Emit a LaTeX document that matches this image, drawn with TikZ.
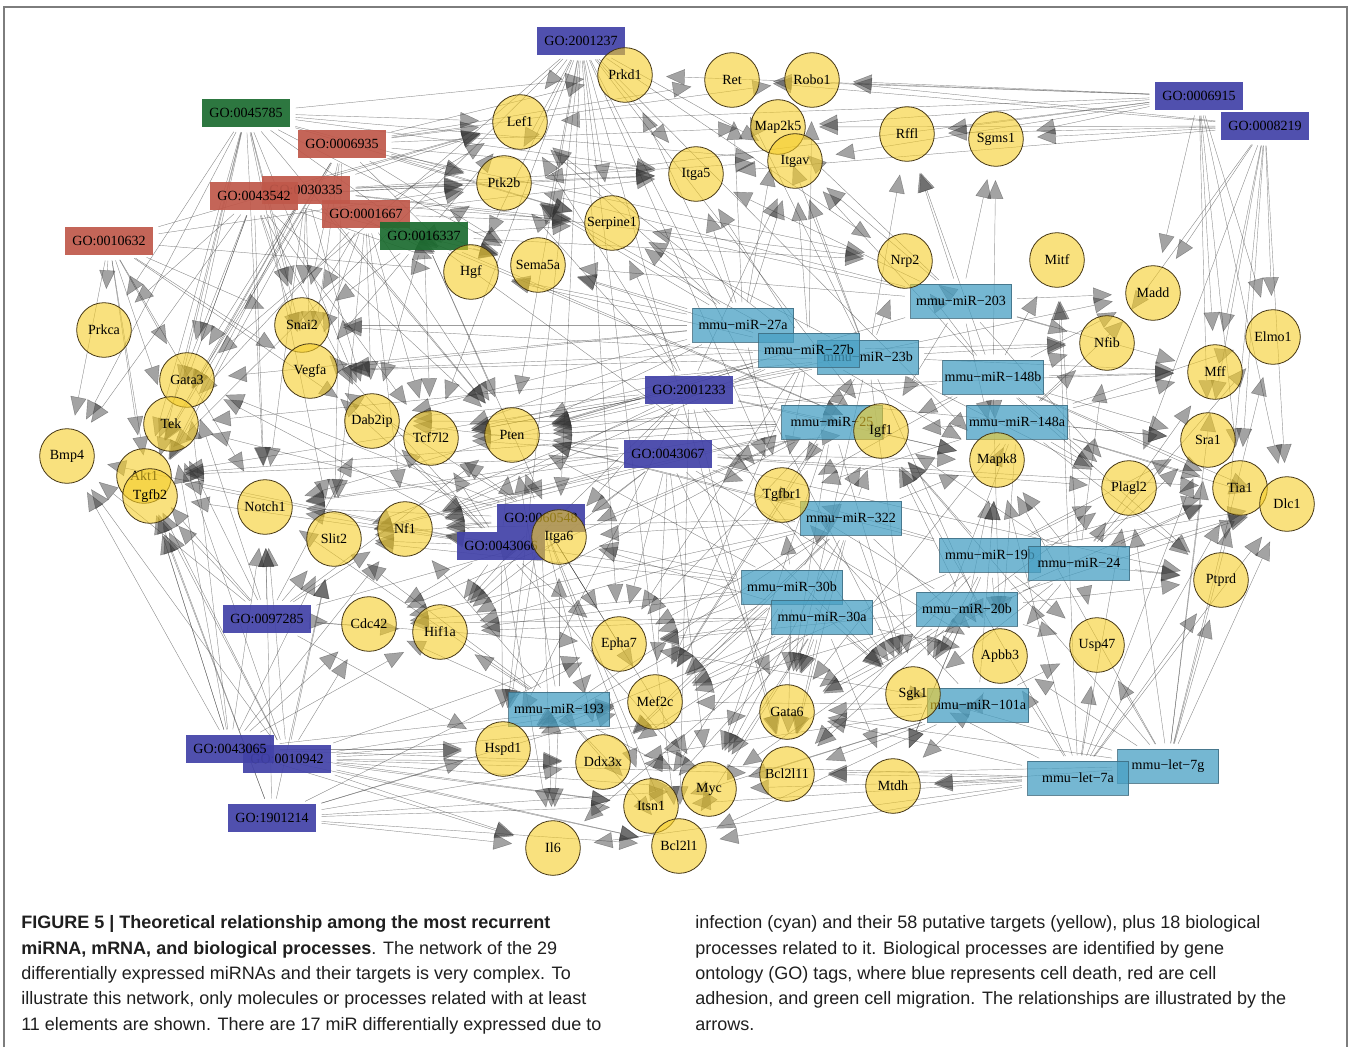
\documentclass[tikz,border=0pt]{standalone}
\usepackage{fontspec}
\setmainfont{Liberation Serif}
\newfontfamily\capfont{Liberation Sans}
\usetikzlibrary{arrows.meta}
\pgfdeclarelayer{back}
\pgfdeclarelayer{bg}
\pgfsetlayers{back,bg,main}
\definecolor{goblue}{RGB}{66,66,168}
\definecolor{gored}{RGB}{192,88,74}
\definecolor{gogreen}{RGB}{28,108,48}
\definecolor{mircyan}{RGB}{72,160,196}
\definecolor{mirborder}{RGB}{60,105,125}
\definecolor{genefill}{RGB}{245,205,40}
\definecolor{geneborder}{RGB}{70,55,20}
\definecolor{framegray}{RGB}{125,125,125}
\tikzset{
 gene/.style={circle, minimum size=41pt, inner sep=0pt, fill=genefill, fill opacity=0.6, text opacity=1, draw=geneborder, draw opacity=1, line width=0.6pt, font=\fontsize{10.5}{12}\selectfont},
 gobox/.style={rectangle, minimum width=66pt, minimum height=21pt, inner sep=0pt, fill opacity=0.92, text opacity=1, font=\fontsize{10.5}{12}\selectfont},
 gob/.style={gobox, fill=goblue},
 gor/.style={gobox, fill=gored},
 gog/.style={gobox, fill=gogreen},
 mir/.style={rectangle, minimum width=75.75pt, minimum height=25.5pt, inner sep=0pt, fill=mircyan, fill opacity=0.75, draw=mirborder, draw opacity=0.8, line width=0.5pt, text opacity=1, font=\fontsize{10.5}{12}\selectfont},
 edge/.style={draw=black!80, fill=black!80, line width=0.3pt, opacity=0.45, shorten >=10pt, shorten <=4pt, -{Triangle[length=14pt,width=12pt]}},
 caption/.style={anchor=base west, align=left, inner sep=0pt, text=black!88, font=\capfont\fontsize{13.5}{19}\selectfont},
}
\newcommand\edgesfrom[2]{\foreach \tg in {#2}{\draw[edge] (#1) -- (\tg);}}
\begin{document}
\begin{tikzpicture}[x=0.75pt,y=-0.75pt]
\useasboundingbox (0,0) rectangle (1352,1047);
\begin{pgfonlayer}{back}
\fill[white] (0,0) rectangle (1352,1047);
\end{pgfonlayer}
\draw[framegray, line width=1.2pt] (4,1047) -- (4,7) -- (1347,7) -- (1347,1047);

% GO boxes
\node[gob] (go2001237) at (581,41) {GO:2001237};
\node[gob] (go0006915) at (1199,96) {GO:0006915};
\node[gob] (go0008219) at (1265,126) {GO:0008219};
\node[gob] (go2001233) at (689,390) {GO:2001233};
\node[gob] (go0043067) at (668,454) {GO:0043067};
\node[gob] (go0060548) at (541,518) {GO:0060548};
\node[gob] (go0043066) at (501,546) {GO:0043066};
\node[gob] (go0097285) at (267,619) {GO:0097285};
\node[gob] (go0010942) at (287,759) {GO:0010942};
\node[gob] (go0043065) at (230,749) {GO:0043065};
\node[gob] (go1901214) at (272,818) {GO:1901214};
\node[gog] (go0045785) at (246,113) {GO:0045785};
\node[gor] (go0006935) at (342,144) {GO:0006935};
\node[gor] (go0030335) at (306,190) {GO:0030335};
\node[gor] (go0043542) at (254,196) {GO:0043542};
\node[gor] (go0001667) at (366,214) {GO:0001667};
\node[gor] (go0010632) at (109,241) {GO:0010632};
\node[gog] (go0016337) at (424,236) {GO:0016337};

% miRNA boxes
\node[mir] (m203) at (961,301) {mmu−miR−203};
\node[mir] (m27a) at (743,325) {mmu−miR−27a};
\node[mir] (m23b) at (868,357) {mmu−miR−23b};
\node[mir] (m27b) at (809,350) {mmu−miR−27b};
\node[mir] (m148b) at (993,377) {mmu−miR−148b};
\node[mir] (m25) at (832,422) {mmu−miR−25};
\node[mir] (m148a) at (1017,422) {mmu−miR−148a};
\node[mir] (m322) at (851,518) {mmu−miR−322};
\node[mir] (m19b) at (990,555) {mmu−miR−19b};
\node[mir] (m24) at (1079,563) {mmu−miR−24};
\node[mir] (m30b) at (792,587) {mmu−miR−30b};
\node[mir] (m30a) at (822,617) {mmu−miR−30a};
\node[mir] (m20b) at (967,609) {mmu−miR−20b};
\node[mir] (m193) at (559,709) {mmu−miR−193};
\node[mir] (m101a) at (978,705) {mmu−miR−101a};
\node[mir] (l7g) at (1168,766) {mmu−let−7g};
\node[mir] (l7a) at (1078,778) {mmu−let−7a};

% target genes
\node[gene] (Prkd1) at (625,75) {Prkd1};
\node[gene] (Ret) at (732,80) {Ret};
\node[gene] (Robo1) at (812,80) {Robo1};
\node[gene] (Lef1) at (520,122) {Lef1};
\node[gene] (Map2k5) at (778,127) {Map2k5};
\node[gene] (Itgav) at (795,161) {Itgav};
\node[gene] (Rffl) at (907,134) {Rffl};
\node[gene] (Sgms1) at (996,139) {Sgms1};
\node[gene] (Itga5) at (696,174) {Itga5};
\node[gene] (Ptk2b) at (504,183) {Ptk2b};
\node[gene] (Serpine1) at (612,223) {Serpine1};
\node[gene] (Hgf) at (471,272) {Hgf};
\node[gene] (Sema5a) at (538,265) {Sema5a};
\node[gene] (Nrp2) at (905,261) {Nrp2};
\node[gene] (Mitf) at (1057,260) {Mitf};
\node[gene] (Madd) at (1153,293) {Madd};
\node[gene] (Elmo1) at (1273,337) {Elmo1};
\node[gene] (Nfib) at (1107,343) {Nfib};
\node[gene] (Mff) at (1215,372) {Mff};
\node[gene] (Prkca) at (104,330) {Prkca};
\node[gene] (Snai2) at (302,325) {Snai2};
\node[gene] (Vegfa) at (310,371) {Vegfa};
\node[gene] (Gata3) at (187,380) {Gata3};
\node[gene] (Tek) at (171,424) {Tek};
\node[gene] (Dab2ip) at (372,421) {Dab2ip};
\node[gene] (Tcf7l2) at (431,438) {Tcf7l2};
\node[gene] (Pten) at (512,435) {Pten};
\node[gene] (Igf1) at (881,431) {Igf1};
\node[gene] (Sra1) at (1208,440) {Sra1};
\node[gene] (Bmp4) at (67,456) {Bmp4};
\node[gene] (Akt1) at (144,476) {Akt1};
\node[gene] (Tgfb2) at (150,496) {Tgfb2};
\node[gene] (Mapk8) at (997,460) {Mapk8};
\node[gene] (Notch1) at (265,507) {Notch1};
\node[gene] (Tgfbr1) at (782,495) {Tgfbr1};
\node[gene] (Plagl2) at (1129,488) {Plagl2};
\node[gene] (Tia1) at (1240,488) {Tia1};
\node[gene] (Dlc1) at (1287,504) {Dlc1};
\node[gene] (Slit2) at (334,539) {Slit2};
\node[gene] (Nf1) at (405,529) {Nf1};
\node[gene] (Itga6) at (559,537) {Itga6};
\node[gene] (Ptprd) at (1221,580) {Ptprd};
\node[gene] (Cdc42) at (369,624) {Cdc42};
\node[gene] (Hif1a) at (440,632) {Hif1a};
\node[gene] (Epha7) at (619,644) {Epha7};
\node[gene] (Usp47) at (1097,645) {Usp47};
\node[gene] (Apbb3) at (1000,656) {Apbb3};
\node[gene] (Mef2c) at (655,702) {Mef2c};
\node[gene] (Sgk1) at (913,694) {Sgk1};
\node[gene] (Gata6) at (787,712) {Gata6};
\node[gene] (Hspd1) at (503,749) {Hspd1};
\node[gene] (Ddx3x) at (603,762) {Ddx3x};
\node[gene] (Bcl2l11) at (787,774) {Bcl2l11};
\node[gene] (Myc) at (709,789) {Myc};
\node[gene] (Mtdh) at (893,786) {Mtdh};
\node[gene] (Itsn1) at (651,806) {Itsn1};
\node[gene] (Il6) at (553,848) {Il6};
\node[gene] (Bcl2l1) at (679,846) {Bcl2l1};

\begin{pgfonlayer}{bg}
\edgesfrom{go2001237}{Lef1,Ptk2b,Serpine1,Hgf,Sema5a,Pten,Tcf7l2,Itga6,Igf1,Nrp2,Itgav,Itga5,Mapk8,Tgfbr1,Epha7,Sgk1,Bcl2l11,Bcl2l1,Hspd1,Akt1,Gata3}
\edgesfrom{go0006915}{Ret,Robo1,Prkd1,Rffl,Sgms1,Map2k5,Itgav,Lef1,Ptk2b,Madd,Mff,Sra1,Tia1,Dlc1,Elmo1}
\edgesfrom{go0008219}{Ret,Robo1,Rffl,Sgms1,Madd,Mff,Elmo1,Sra1,Tia1,Dlc1,Nfib,Ptprd,Plagl2,Itga5,Map2k5}
\edgesfrom{go0045785}{Lef1,Ptk2b,Prkd1,Itga5,Serpine1,Sema5a,Hgf,Prkca,Gata3,Tek,Snai2,Vegfa,Dab2ip,Notch1,Bmp4,Tgfb2,Akt1,Pten,Slit2,Itgav}
\edgesfrom{go0006935}{Lef1,Ptk2b,Prkd1,Ret,Robo1,Itga5,Map2k5,Serpine1,Sema5a,Hgf,Vegfa,Snai2,Nrp2,Slit2,Tgfb2,Akt1,Tek}
\edgesfrom{go0043542}{Ptk2b,Lef1,Itga5,Serpine1,Hgf,Sema5a,Prkca,Gata3,Tek,Vegfa,Snai2,Dab2ip,Tcf7l2,Pten,Notch1,Akt1,Bmp4}
\edgesfrom{go0030335}{Ptk2b,Lef1,Itgav,Itga5,Serpine1,Hgf,Vegfa,Snai2,Gata3,Tek,Dab2ip,Pten,Akt1,Tgfb2,Notch1,Igf1,Nrp2}
\edgesfrom{go0001667}{Ptk2b,Lef1,Serpine1,Hgf,Sema5a,Itga5,Vegfa,Snai2,Tek,Dab2ip,Tcf7l2,Pten,Nf1,Slit2}
\edgesfrom{go0010632}{Bmp4,Prkca,Gata3,Tek,Akt1,Tgfb2,Vegfa,Snai2,Ptk2b,Lef1,Hgf,Notch1,Dab2ip}
\edgesfrom{go0016337}{Hgf,Sema5a,Ptk2b,Lef1,Serpine1,Pten,Tcf7l2,Dab2ip,Vegfa,Snai2,Igf1,Nrp2,Itga6,Tgfbr1}
\edgesfrom{go2001233}{Pten,Tcf7l2,Itga6,Igf1,Tgfbr1,Mapk8,Itgav,Ptk2b,Lef1,Serpine1,Dab2ip,Hif1a,Nf1,Akt1,Sgk1,Bcl2l11,Bcl2l1,Hspd1,Mff,Sra1,Madd}
\edgesfrom{go0043067}{Pten,Tcf7l2,Dab2ip,Nf1,Slit2,Itga6,Igf1,Tgfbr1,Mapk8,Hif1a,Epha7,Mef2c,Gata6,Myc,Sgk1,Apbb3,Plagl2,Tia1,Ptprd,Akt1,Notch1}
\edgesfrom{go0060548}{Pten,Tcf7l2,Nf1,Slit2,Hif1a,Epha7,Mef2c,Myc,Il6,Itsn1,Ddx3x,Hspd1,Bcl2l1,Gata3,Tek,Notch1,Vegfa}
\edgesfrom{go0043066}{Pten,Tcf7l2,Dab2ip,Nf1,Slit2,Cdc42,Hif1a,Notch1,Akt1,Tgfb2,Bmp4,Gata3,Vegfa,Snai2,Epha7,Hspd1,Il6,Myc}
\edgesfrom{go0097285}{Notch1,Slit2,Cdc42,Hif1a,Nf1,Tgfb2,Akt1,Bmp4,Tek,Gata3,Dab2ip,Pten,Itga6,Epha7,Hspd1}
\edgesfrom{go0043065}{Bmp4,Akt1,Tgfb2,Tek,Gata3,Notch1,Slit2,Cdc42,Hif1a,Nf1,Hspd1,Il6,Ddx3x,Itsn1,Bcl2l1,Mef2c}
\edgesfrom{go0010942}{Bmp4,Akt1,Tgfb2,Tek,Notch1,Slit2,Cdc42,Hspd1,Ddx3x,Il6,Itsn1,Myc,Bcl2l1,Bcl2l11,Mef2c,Epha7,Gata6}
\edgesfrom{go1901214}{Akt1,Tgfb2,Notch1,Slit2,Hspd1,Il6,Ddx3x,Itsn1,Bcl2l1,Myc,Mef2c,Epha7}
\edgesfrom{m203}{Nrp2,Serpine1,Itga5,Itgav,Map2k5,Rffl,Sgms1,Nfib,Mff,Madd,Igf1,Mapk8,Plagl2,Pten,Ptk2b,Sema5a}
\edgesfrom{m27a}{Lef1,Ptk2b,Serpine1,Itga5,Map2k5,Itgav,Ret,Prkd1,Hgf,Sema5a,Pten,Tcf7l2,Dab2ip,Vegfa,Snai2,Gata3,Igf1,Tgfbr1}
\edgesfrom{m27b}{Lef1,Ptk2b,Itga5,Itgav,Robo1,Sema5a,Hgf,Pten,Tcf7l2,Nf1,Slit2,Notch1,Vegfa,Epha7,Mef2c,Tgfbr1,Mapk8,Nfib}
\edgesfrom{m23b}{Nrp2,Itgav,Map2k5,Rffl,Ret,Serpine1,Pten,Tcf7l2,Vegfa,Snai2,Tek,Mef2c,Gata6,Sgk1,Apbb3,Mff,Nfib,Plagl2}
\edgesfrom{m148b}{Nfib,Mff,Madd,Sra1,Tia1,Dlc1,Plagl2,Mapk8,Igf1,Nrp2,Itgav,Rffl,Sgms1,Ptprd,Apbb3,Tgfbr1,Pten,Mitf}
\edgesfrom{m25}{Pten,Tcf7l2,Itga6,Igf1,Tgfbr1,Mapk8,Nf1,Slit2,Dab2ip,Hif1a,Epha7,Mef2c,Gata6,Myc,Sgk1,Cdc42,Notch1,Akt1}
\edgesfrom{m148a}{Mapk8,Plagl2,Sra1,Tia1,Dlc1,Mff,Nfib,Ptprd,Apbb3,Igf1,Tgfbr1,Sgk1,Gata6,Madd,Elmo1}
\edgesfrom{m322}{Tgfbr1,Igf1,Mapk8,Itga6,Pten,Epha7,Mef2c,Gata6,Myc,Bcl2l11,Sgk1,Apbb3,Hif1a,Nf1,Cdc42,Ddx3x,Hspd1}
\edgesfrom{m19b}{Apbb3,Usp47,Sgk1,Plagl2,Ptprd,Tia1,Dlc1,Sra1,Mapk8,Tgfbr1,Igf1,Gata6,Mtdh,Bcl2l11,Mef2c,Pten}
\edgesfrom{m24}{Ptprd,Tia1,Dlc1,Sra1,Plagl2,Mff,Nfib,Mapk8,Apbb3,Usp47,Sgk1,Gata6,Igf1,Elmo1,Mitf}
\edgesfrom{m30b}{Epha7,Mef2c,Gata6,Myc,Bcl2l11,Itsn1,Ddx3x,Hspd1,Itga6,Pten,Hif1a,Cdc42,Nf1,Slit2,Tgfbr1,Igf1,Sgk1}
\edgesfrom{m30a}{Epha7,Mef2c,Gata6,Myc,Bcl2l11,Bcl2l1,Itsn1,Ddx3x,Hspd1,Il6,Hif1a,Cdc42,Sgk1,Apbb3,Mtdh,Itga6}
\edgesfrom{m20b}{Apbb3,Sgk1,Gata6,Bcl2l11,Mtdh,Myc,Mef2c,Epha7,Usp47,Ptprd,Plagl2,Mapk8,Tgfbr1,Igf1,Tia1,Dlc1}
\edgesfrom{m193}{Hspd1,Ddx3x,Il6,Itsn1,Myc,Mef2c,Epha7,Hif1a,Cdc42,Itga6,Pten,Nf1,Slit2,Notch1,Bcl2l1}
\edgesfrom{m101a}{Sgk1,Apbb3,Gata6,Bcl2l11,Mtdh,Myc,Mef2c,Itsn1,Ddx3x,Bcl2l1,Usp47,Epha7,Tgfbr1,Mapk8}
\edgesfrom{l7a}{Mtdh,Bcl2l11,Bcl2l1,Myc,Gata6,Sgk1,Apbb3,Usp47,Ptprd,Plagl2,Tia1,Dlc1,Sra1,Igf1,Mapk8,Itsn1,Il6,Ddx3x,Mitf}
\edgesfrom{l7g}{Ptprd,Usp47,Apbb3,Sgk1,Gata6,Mtdh,Bcl2l11,Tia1,Sra1,Dlc1,Plagl2,Mapk8,Igf1,Mff,Elmo1}
\end{pgfonlayer}

% caption
\node[caption] (capL) at (21,1030) {\textbf{FIGURE 5 | Theoretical relationship among the most recurrent}\\
\textbf{miRNA, mRNA, and biological processes}. The network of the 29\\
differentially expressed miRNAs and their targets is very complex. To\\
illustrate this network, only molecules or processes related with at least\\
11 elements are shown. There are 17 miR differentially expressed due to};
\node[caption] (capR) at (695,1030) {infection (cyan) and their 58 putative targets (yellow), plus 18 biological\\
processes related to it. Biological processes are identified by gene\\
ontology (GO) tags, where blue represents cell death, red are cell\\
adhesion, and green cell migration. The relationships are illustrated by the\\
arrows.};
\end{tikzpicture}
\end{document}
